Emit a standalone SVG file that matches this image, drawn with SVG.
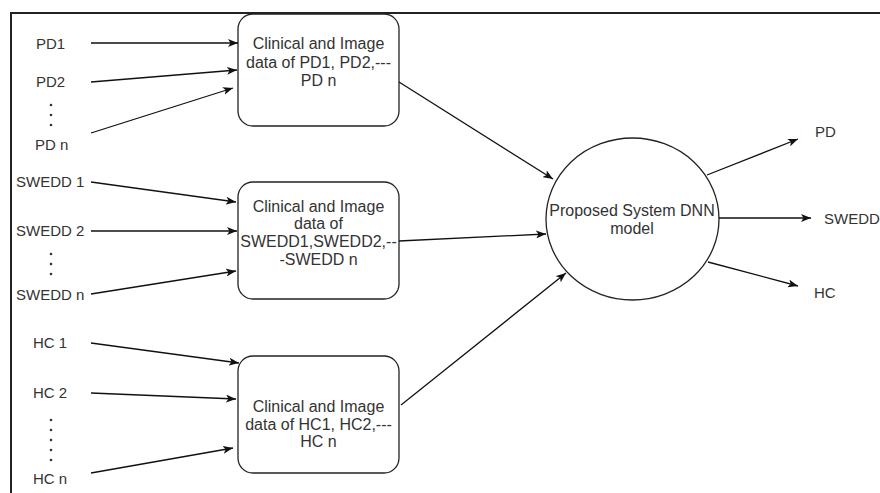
<svg xmlns="http://www.w3.org/2000/svg" width="880" height="493" viewBox="0 0 880 493">
<defs>
<marker id="arr" viewBox="0 0 10 8" refX="10" refY="4" markerWidth="10" markerHeight="8" markerUnits="userSpaceOnUse" orient="auto">
<path d="M0,0 L10,4 L0,8 L2.5,4 Z" fill="#111"/>
</marker>
<style>
.lbl{font-family:"Liberation Sans",Arial,sans-serif;font-size:15px;fill:#333}
.txt{font-family:"Liberation Sans",Arial,sans-serif;font-size:16px;fill:#333;text-anchor:middle}
.box{fill:#fff;stroke:#222;stroke-width:1.3}
.edge{fill:none;stroke:#111;stroke-width:1.3;marker-end:url(#arr)}
.dot{fill:#333}
</style>
</defs>
<rect width="880" height="493" fill="#fff"/>
<path d="M11,493 L11,13 L880,13" fill="none" stroke="#222" stroke-width="2"/>

<g id="labels">
<text class="lbl" x="36" y="49">PD1</text>
<text class="lbl" x="36" y="87">PD2</text>
<circle class="dot" cx="51" cy="105" r="1.3"/><circle class="dot" cx="51" cy="115" r="1.3"/><circle class="dot" cx="51" cy="125" r="1.3"/>
<text class="lbl" x="35" y="150">PD n</text>
<text class="lbl" x="16" y="187">SWEDD 1</text>
<text class="lbl" x="16" y="236">SWEDD 2</text>
<circle class="dot" cx="51" cy="254" r="1.3"/><circle class="dot" cx="51" cy="264" r="1.3"/><circle class="dot" cx="51" cy="274" r="1.3"/>
<text class="lbl" x="16" y="300">SWEDD n</text>
<text class="lbl" x="33" y="348">HC 1</text>
<text class="lbl" x="33" y="398">HC 2</text>
<circle class="dot" cx="51" cy="420" r="1.3"/><circle class="dot" cx="51" cy="430" r="1.3"/><circle class="dot" cx="51" cy="440" r="1.3"/><circle class="dot" cx="51" cy="450" r="1.3"/><circle class="dot" cx="51" cy="460" r="1.3"/>
<text class="lbl" x="33" y="484">HC n</text>
<text class="lbl" x="815" y="137">PD</text>
<text class="lbl" x="824" y="224">SWEDD</text>
<text class="lbl" x="814" y="298">HC</text>
</g>

<g id="box-pd">
<rect class="box" x="238" y="14" width="161" height="112" rx="15"/>
<text class="txt" x="318.5" y="49">Clinical and Image</text>
<text class="txt" x="318.5" y="68">data of PD1, PD2,---</text>
<text class="txt" x="318.5" y="86">PD n</text>
</g>

<g id="box-swedd">
<rect class="box" x="238" y="182" width="161" height="117" rx="15"/>
<text class="txt" x="318.5" y="212">Clinical and Image</text>
<text class="txt" x="318.5" y="229">data of</text>
<text class="txt" x="318.5" y="247">SWEDD1,SWEDD2,--</text>
<text class="txt" x="318.5" y="265">-SWEDD n</text>
</g>

<g id="box-hc">
<rect class="box" x="238" y="356" width="161" height="117" rx="15"/>
<text class="txt" x="318.5" y="412">Clinical and Image</text>
<text class="txt" x="318.5" y="430">data of HC1, HC2,---</text>
<text class="txt" x="318.5" y="447">HC n</text>
</g>

<g id="dnn">
<ellipse class="box" cx="632.5" cy="219" rx="86.5" ry="81"/>
<text class="txt" x="632" y="216">Proposed System DNN</text>
<text class="txt" x="632" y="234">model</text>
</g>

<g id="connectors">
<line class="edge" x1="91" y1="43" x2="238" y2="43"/>
<line class="edge" x1="91" y1="82" x2="237" y2="70"/>
<line class="edge" x1="91" y1="133" x2="233" y2="88"/>
<line class="edge" x1="91" y1="182" x2="236" y2="202"/>
<line class="edge" x1="91" y1="231" x2="237" y2="231"/>
<line class="edge" x1="91" y1="294" x2="236" y2="271"/>
<line class="edge" x1="91" y1="343" x2="239" y2="363"/>
<line class="edge" x1="91" y1="393" x2="236" y2="399"/>
<line class="edge" x1="91" y1="473" x2="233" y2="448"/>
<line class="edge" x1="399" y1="82" x2="553" y2="179"/>
<line class="edge" x1="399" y1="241" x2="546" y2="234"/>
<line class="edge" x1="401" y1="405" x2="566" y2="273"/>
<line class="edge" x1="707" y1="175" x2="798" y2="139"/>
<line class="edge" x1="719" y1="218" x2="811" y2="218"/>
<line class="edge" x1="708" y1="262" x2="798" y2="286"/>
</g>
</svg>
